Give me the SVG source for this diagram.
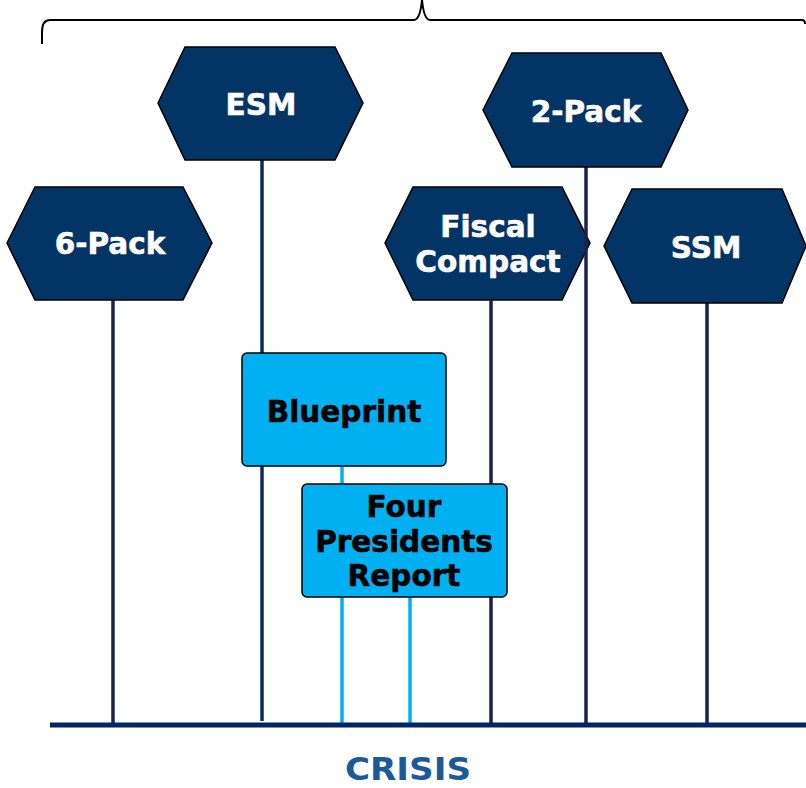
<svg xmlns="http://www.w3.org/2000/svg" width="806" height="788" viewBox="0 0 806 788">
  <style>
    .hex { fill: #023466; stroke: #000; stroke-width: 1.5; }
    .box { fill: #00b0f0; stroke: #000; stroke-width: 1.5; }
    .hex-label { font-family: "DejaVu Sans", Verdana, sans-serif; font-weight: bold; font-size: 29.5px; fill: #fff; stroke: #fff; stroke-width: 0.6; text-anchor: middle; }
    .box-label { font-family: "DejaVu Sans", Verdana, sans-serif; font-weight: bold; font-size: 29.5px; fill: #000; stroke: #000; stroke-width: 0.6; text-anchor: middle; }
    .stem { stroke: #1c1f52; stroke-width: 3.5; fill: none; }
    .stem-esm { stroke: #0b2a60; }
    .stem-light { stroke: #00b0f0; stroke-width: 3.5; fill: none; }
    .brace { stroke: #000; stroke-width: 2; fill: none; }
  </style>

  <!-- curly brace spanning the top -->
  <path class="brace" d="M42,44 L42,32 Q42,20 50,20 L414,20 Q420,20 422,0 Q424,20 430,20 L802,20 Q805,20 805,24"/>

  <!-- drawn before the stems so the 2-Pack stem passes over its tip -->
  <g id="fiscal-compact">
    <polygon class="hex" points="385,243 413,187 562,187 590,243 562,300 413,300"/>
    <text class="hex-label" x="488" y="237">Fiscal</text>
    <text class="hex-label" x="488" y="272">Compact</text>
  </g>

  <g id="connectors">
    <line class="stem" x1="113" y1="300" x2="113" y2="724"/>
    <line class="stem stem-esm" x1="262" y1="160" x2="262" y2="721"/>
    <line class="stem" x1="491" y1="300" x2="491" y2="724"/>
    <line class="stem" x1="586" y1="167" x2="586" y2="724"/>
    <line class="stem" x1="707" y1="303" x2="707" y2="724"/>
    <line class="stem-light" x1="342" y1="466" x2="342" y2="724"/>
    <line class="stem-light" x1="410" y1="597" x2="410" y2="724"/>
    <!-- timeline axis -->
    <line x1="50" y1="725" x2="806" y2="725" stroke="#012466" stroke-width="5"/>
  </g>

  <g id="esm">
    <polygon class="hex" points="158,103 185,47 335,47 363,103 335,160 185,160"/>
    <text class="hex-label" x="261" y="115">ESM</text>
  </g>

  <g id="six-pack">
    <polygon class="hex" points="7,243 35,187 183,187 212,243 183,300 35,300"/>
    <text class="hex-label" x="110" y="254">6-Pack</text>
  </g>

  <g id="two-pack">
    <polygon class="hex" points="483,110 512,53 661,53 688,110 661,167 512,167"/>
    <text class="hex-label" x="586" y="122">2-Pack</text>
  </g>

  <g id="ssm">
    <polygon class="hex" points="604,246 632,189 782,189 806,246 782,303 632,303"/>
    <text class="hex-label" x="706" y="258">SSM</text>
  </g>

  <g id="blueprint">
    <rect class="box" x="242" y="353" width="204" height="113" rx="5"/>
    <text class="box-label" x="344" y="422">Blueprint</text>
  </g>

  <g id="four-presidents-report">
    <rect class="box" x="302" y="484" width="205" height="113" rx="5"/>
    <text class="box-label" x="404" y="517">Four</text>
    <text class="box-label" x="404" y="552">Presidents</text>
    <text class="box-label" x="404" y="586">Report</text>
  </g>

  <text x="408" y="780" font-family="'DejaVu Sans', Verdana, sans-serif" font-weight="bold" font-size="32" fill="#1b5a9a" text-anchor="middle" textLength="126" lengthAdjust="spacingAndGlyphs">CRISIS</text>
</svg>
